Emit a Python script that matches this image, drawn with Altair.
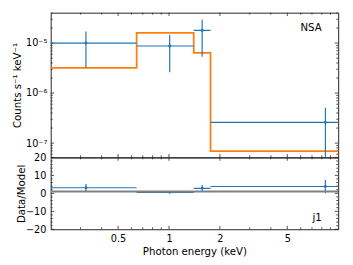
import altair as alt
import pandas as pd

# ---------------- data ----------------
energy = [0.323, 1.01, 1.57, 8.4]
e_lo = [0.16, 0.644, 1.40, 1.76]
e_hi = [0.644, 1.40, 1.76, 40.0]
rate = [1.0e-5, 8.75e-6, 1.79e-5, 2.6e-7]
rate_lo = [3.2e-6, 2.6e-6, 5.35e-6, 1e-9]
rate_hi = [1.71e-5, 1.47e-5, 2.96e-5, 5.07e-7]
model = [3.2e-6, 1.6e-5, 6.4e-6, 6.9e-8]
ratio = [3.1, 0.55, 2.8, 3.8]
ratio_lo = [0.9, 0.2, 1.0, 0.0]
ratio_hi = [5.2, 0.9, 4.6, 7.4]
ref_level = [1.0]

x_major = [0.5, 1, 2, 5]
x_minor = [0.3, 0.4, 0.6, 0.7, 0.8, 0.9, 3, 4, 6, 7, 8, 9]
x_labels = ["0.5", "1", "2", "5"]
y_top_major = [1e-7, 1e-6, 1e-5]
y_top_minor = [6e-8, 7e-8, 8e-8, 9e-8,
               2e-7, 3e-7, 4e-7, 5e-7, 6e-7, 7e-7, 8e-7, 9e-7,
               2e-6, 3e-6, 4e-6, 5e-6, 6e-6, 7e-6, 8e-6, 9e-6,
               2e-5, 3e-5, 4e-5]
y_bot_major = [-20, -10, 0, 10, 20]
y_bot_minor = [-18, -16, -14, -12, -8, -6, -4, -2, 2, 4, 6, 8, 12, 14, 16, 18]
panel_labels = ["NSA", "j1"]

# ---------------- styling ----------------
W, H1, H2 = 296, 149, 74
BLUE, ORANGE, GRAY, FRAME = "#1f77b4", "#ff7f0e", "#808080", "#222222"
FONT = "DejaVu Sans"
MAJ, MIN = 3.5, 2.0
LFS, TFS = 10, 10.5

xscale = alt.Scale(type="log", domain=[0.2, 10], nice=False)
ytop_scale = alt.Scale(type="log", domain=[5.18e-8, 4.05e-5], nice=False)
ybot_scale = alt.Scale(type="linear", domain=[-20, 20], nice=False, zero=False)

X_top = alt.X("x:Q", scale=xscale, axis=None)
x_label_expr = "datum.value == 0.5 ? '0.5' : datum.value == 1 ? '1' : datum.value == 2 ? '2' : '5'"
X_bot = alt.X(
    "x:Q", scale=xscale,
    axis=alt.Axis(values=x_major, labelExpr=x_label_expr, ticks=False, domain=False, grid=False,
                  labelBaseline="alphabetic", labelPadding=12.5, labelFontSize=LFS,
                  labelColor="black", title="Photon energy (keV)", titleFontSize=TFS,
                  titleFontWeight="normal", titleColor="black", titleBaseline="alphabetic",
                  titleY=25.5, titleX=W / 2, titleAlign="center"),
)
Y_top = alt.Y(
    "y:Q", scale=ytop_scale,
    axis=alt.Axis(values=y_top_major,
                  labelExpr="datum.value > 5e-6 ? '10⁻⁵' : datum.value > 5e-7 ? '10⁻⁶' : '10⁻⁷'",
                  ticks=False, domain=False, grid=False, labelPadding=4, labelFontSize=LFS,
                  labelColor="black", title="Counts s⁻¹ keV⁻¹", titleFontSize=TFS,
                  titleFontWeight="normal", titleColor="black", titleBaseline="alphabetic",
                  titleX=-30.7, titleY=H1 / 2, titleAlign="center", titleAngle=270),
)
Y_bot = alt.Y(
    "y:Q", scale=ybot_scale,
    axis=alt.Axis(values=y_bot_major, format="d", ticks=False, domain=False, grid=False,
                  labelPadding=5, labelFontSize=LFS, labelColor="black",
                  title="Data/Model", titleFontSize=TFS, titleFontWeight="normal",
                  titleColor="black", titleBaseline="alphabetic",
                  titleX=-27.5, titleY=H2 / 2, titleAlign="center", titleAngle=270),
)


def xtick_layers(X, H):
    layers = []
    for vals, L in ((x_major, MAJ), (x_minor, MIN)):
        df = pd.DataFrame({"x": vals})
        base = alt.Chart(df).mark_rule(color=FRAME, strokeWidth=0.8)
        layers.append(base.encode(x=X, y=alt.value(0), y2=alt.value(L)))
        layers.append(base.encode(x=X, y=alt.value(H), y2=alt.value(H - L)))
    return layers


def ytick_layers(Y, major, minor):
    layers = []
    for vals, L in ((major, MAJ), (minor, MIN)):
        df = pd.DataFrame({"y": vals})
        base = alt.Chart(df).mark_rule(color=FRAME, strokeWidth=0.8)
        layers.append(base.encode(y=Y, x=alt.value(0), x2=alt.value(L)))
        layers.append(base.encode(y=Y, x=alt.value(W), x2=alt.value(W - L)))
    return layers


# ---------------- top panel ----------------
model_df = pd.DataFrame({"x": e_lo + [e_hi[-1]], "y": model + [model[-1]]})
hbar_df = pd.DataFrame({"x": e_lo, "x2": e_hi, "y": rate})
vbar_df = pd.DataFrame({"x": energy, "y": rate_lo, "y2": rate_hi})
pt_df = pd.DataFrame({"x": energy, "y": rate})

model_line = alt.Chart(model_df).mark_line(
    color=ORANGE, strokeWidth=1.8, interpolate="step-after", clip=True
).encode(x=X_top, y=Y_top)
hbars = alt.Chart(hbar_df).mark_rule(color=BLUE, strokeWidth=1.2, clip=True).encode(
    x=X_top, x2="x2:Q", y=Y_top)
vbars = alt.Chart(vbar_df).mark_rule(color=BLUE, strokeWidth=1.2, clip=True).encode(
    x=X_top, y=Y_top, y2="y2:Q")
pts = alt.Chart(pt_df).mark_circle(color=BLUE, size=9, opacity=1, clip=True).encode(
    x=X_top, y=Y_top)
lab_top = alt.Chart(pd.DataFrame({"t": [panel_labels[0]]})).mark_text(
    align="right", baseline="alphabetic", fontSize=10.5, font=FONT, color="black"
).encode(text="t:N", x=alt.value(279), y=alt.value(18.7))

top = alt.layer(
    *xtick_layers(X_top, H1), *ytick_layers(Y_top, y_top_major, y_top_minor),
    model_line, hbars, vbars, pts, lab_top,
).properties(width=W, height=H1)

# ---------------- bottom panel ----------------
ref_df = pd.DataFrame({"y": ref_level})
rh_df = pd.DataFrame({"x": e_lo, "x2": e_hi, "y": ratio})
rv_df = pd.DataFrame({"x": energy, "y": ratio_lo, "y2": ratio_hi})
rp_df = pd.DataFrame({"x": energy, "y": ratio})

ref_line = alt.Chart(ref_df).mark_rule(color=GRAY, strokeWidth=2).encode(y=Y_bot)
rh = alt.Chart(rh_df).mark_rule(color=BLUE, strokeWidth=1.2, clip=True).encode(
    x=X_bot, x2="x2:Q", y=Y_bot)
rv = alt.Chart(rv_df).mark_rule(color=BLUE, strokeWidth=1.2, clip=True).encode(
    x=X_bot, y=Y_bot, y2="y2:Q")
rp = alt.Chart(rp_df).mark_circle(color=BLUE, size=9, opacity=1, clip=True).encode(
    x=X_bot, y=Y_bot)
lab_bot = alt.Chart(pd.DataFrame({"t": [panel_labels[1]]})).mark_text(
    align="right", baseline="alphabetic", fontSize=10.5, font=FONT, color="black"
).encode(text="t:N", x=alt.value(279), y=alt.value(65.3))

bottom = alt.layer(
    *xtick_layers(X_bot, H2), *ytick_layers(Y_bot, y_bot_major, y_bot_minor),
    rh, rv, rp, ref_line, lab_bot,
).properties(width=W, height=H2)

chart = alt.vconcat(top, bottom, spacing=0, bounds="flush").properties(
    padding={"left": 4, "top": 0, "right": 5, "bottom": 5}
).configure(font=FONT).configure_view(stroke=FRAME, strokeWidth=1)

chart.save("out.html", embed_options={"renderer": "svg", "actions": False})
